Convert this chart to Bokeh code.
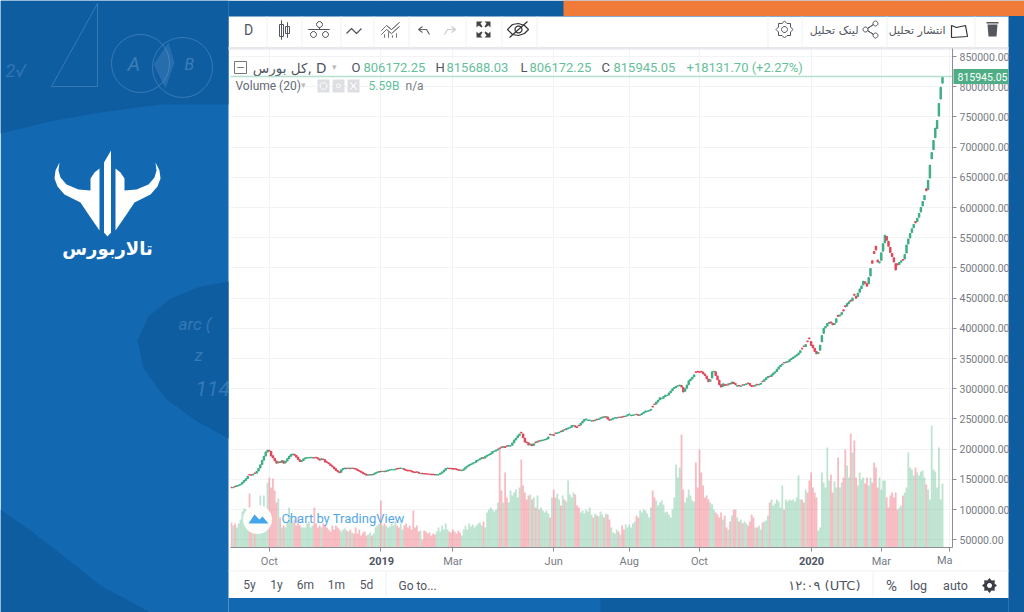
import math

from bokeh.embed import file_html
from bokeh.models import (BoxAnnotation, ColumnDataSource, FixedTicker, Label,
                          NumeralTickFormatter, PolyAnnotation, Range1d)
from bokeh.plotting import figure
from bokeh.resources import INLINE

# daily close, thousands
closes = [
    136.5, 137, 138, 139.5, 140.5, 142, 145, 148, 151, 155,
    157.5, 157, 158.5, 160, 163, 168, 174, 181, 188, 195,
    198, 197, 189, 186, 181, 177, 179, 178, 181, 177,
    180, 184, 188, 191, 192, 190, 187, 183, 180, 181,
    184, 185.5, 186, 186, 186.5, 186, 185.5, 186, 184, 182,
    184, 183, 179, 178, 176, 173, 171, 168, 165, 163,
    161, 166, 168, 168.5, 168, 168.5, 168, 168.5, 168, 167,
    165, 163.5, 162, 160, 158.5, 157, 157.5, 158, 157.5, 159,
    161, 162, 163, 163, 163.5, 163, 164, 165, 166, 166.5,
    166, 167, 167.5, 168, 168.5, 168, 166, 165, 164, 164.5,
    163, 162, 161.5, 162, 160.5, 160, 159.5, 159, 159, 158.5,
    158.5, 158, 158, 157.5, 158, 158, 160, 162, 165, 168,
    168.5, 168, 168, 167, 167.5, 166.5, 165.5, 165, 165, 167,
    170, 172, 174, 175.5, 177, 178, 181, 182, 184, 186,
    185, 188, 190, 191, 193, 196, 197, 198.5, 200, 201,
    203, 204.5, 203, 205, 206, 205.5, 210, 215, 218, 222,
    225, 227, 219, 212, 211, 207, 208.5, 206, 209, 211,
    213, 213.5, 214.5, 215, 216, 217, 220, 224, 224, 223,
    226, 227, 228, 229, 231, 232, 234, 235, 236, 239,
    239, 237, 236, 239, 243, 246, 249, 250, 248, 248,
    247, 247, 248, 249, 250, 252, 253, 253, 254, 250,
    248, 249.5, 251, 252, 252, 252.5, 253, 253, 254, 255,
    257, 258, 256, 256.5, 257, 257.5, 256, 257, 259, 261,
    263, 263, 264, 266, 270, 274, 278, 281, 285, 284,
    287, 289, 289, 293, 296, 300, 302, 304, 305, 306,
    303, 295, 300, 306, 313, 316, 319, 323, 327, 328,
    327, 328, 325, 322, 317, 312, 315, 328, 329, 322,
    315, 307, 303, 308, 306, 306, 308, 308, 311, 309,
    307, 305.5, 305, 304.5, 306, 307, 308, 309, 306, 304,
    304.5, 306, 307, 307, 309, 312, 315, 318, 320, 320,
    323, 326, 328, 332, 336, 339, 341, 343, 344, 345,
    348, 350, 352, 354, 356, 359, 363, 366, 370, 373,
    378, 383, 372, 368, 362, 358, 360, 372, 388, 400,
    403, 408, 410, 409, 406, 408, 416, 420, 422, 426,
    429, 436, 441, 444, 445, 450, 455, 450, 458, 465,
    470, 478, 475, 470, 484, 499, 508, 524, 530, 510,
    510, 525, 540, 554, 546, 536, 526, 519, 510, 497,
    505, 509, 512, 513, 522, 538, 548, 557, 565, 572,
    575, 582, 590, 600, 610, 620, 628, 645, 670, 691,
    711, 731, 744, 772, 799, 815.945,
]

# close minus open, thousands
bodies = [
    -.5, .5, -.5, 1, 1, 1, 2.5, 2.5, 2.5, 3.5,
    -.5, -.5, 1, -.5, 2.5, 4, 5, 6, 6, 6,
    2.5, -1, -7, -3, -4, -3.5, 1.5, -1, 2.5, -3.5,
    2.5, 3.5, 3.5, 2.5, 1, -1.5, -2.5, -3.5, -2.5, 1,
    2.5, 1, .5, .5, .5, .5, -.5, -.5, -1.5, -1.5,
    1.5, -.8, -3.5, -1, -1.5, -2.5, -1.5, -2.5, -2.5, -1.5,
    -1.5, 4, 1.5, .5, -.4, .4, -.4, .4, -.4, -.8,
    -1.5, -1.2, -1.2, -1.5, -1.2, -1.2, .4, .4, -.4, 1.2,
    1.5, .8, .8, -.4, .4, -.4, .8, .8, .8, .4,
    .4, .8, -.4, -.4, .4, .4, -1.5, -.8, -.8, -.4,
    -1.2, -.8, -.4, -.4, -1.2, .4, -.4, -.4, -.4, -.4,
    -.4, -.4, -.4, -.4, .4, .4, 1.5, 1.5, 2.5, 2.5,
    .4, -.4, -.4, -.8, -.4, -.8, -.8, -.4, .4, 1.5,
    2.5, 1.5, 1.5, 1.2, 1.2, .8, 2.5, .8, 1.5, 1.5,
    -.8, 2.5, 1.5, .8, 1.5, 2.5, .8, 1.2, 1.2, -.8,
    -.6, 1.2, -1, -.6, .8, .4, 3.5, 4, 2.5, 3,
    2.5, -.8, -6, -6, -.8, -3.5, 1.2, -2, 2.5, -.8,
    1.5, -.4, .8, .4, .8, .8, 2.5, -.6, .4, -.8,
    -.5, .8, .8, -.4, 1.5, -.4, 1.5, .8, .8, 2.5,
    .4, -1.5, -.8, -.6, 3, 2.5, 2.5, .8, .4, .4,
    .4, -.4, .8, -.4, .8, 1.5, .8, -.4, .8, -3,
    -1.5, 1.2, 1.2, .8, .4, -.4, .4, -.4, -.4, .8,
    1.5, .8, .4, .4, .4, -.4, -1, .8, 1.5, 1.5,
    1.5, .4, .8, 1.5, -.8, -.8, 3, 2.5, 3, .4,
    2.5, 1.5, .4, 3, 2.5, 3, 1.5, 1.5, .8, .8,
    -2.5, -7, 4, 5, 6, 2.5, 2.5, 3, -1, -.8,
    -1, -.8, -2.5, -2.5, -4, -4, 2.5, 10, .8, -6,
    -6, -7, -3.5, 4, -1.5, -.4, 1.5, -.4, 2.5, -1.5,
    -1.5, 1, -.4, .4, -.4, .8, .8, -.4, -2.5, -1.5,
    -.4, 1.2, -.4, .4, 1.5, -.4, 2.5, 2.5, 1.5, -.5,
    2.5, 2.5, 1.5, 3, 3, 2.5, 1.5, -.5, .8, .8,
    2.5, 1.5, 1.5, 1.5, 1.5, 2.5, 3, -.8, -.8, 3,
    -1, -1, -6, -4, -5, -3.5, 1.5, 8, 10, 8,
    2, 4, 1.5, -1.5, -2.5, 1.5, 6, -1.5, 1.5, 3,
    -1.5, -1.5, 4, 2.5, -1.5, 4, -1.5, -3, 5, 5,
    4, 6, -2, -4, 10, 12, -4, -3, -6, -3,
    1.5, 12, 12, 12, -6, -8, -8, -5, -7, -10,
    -2, 3, 2.5, -1, 7, 13, 8, 7, 6, 5,
    -2, 5, 6, 7, 7, 7, -3, 15, 21, 10,
    15, 15, 13, 20, 19, 9.773,
]

# volume, billions
volumes = [
    2.18, 1.92, 2.10, 1.75, 2.10, 2.44, 3.14, 3.40, 3.32, 2.97,
    4.71, 3.14, 2.97, 2.62, 2.79, 3.32, 4.54, 3.49, 4.54, 3.06,
    5.67, 6.11, 5.24, 6.02, 4.98, 3.93, 4.28, 2.62, 1.75, 1.92,
    1.75, 2.18, 3.49, 2.79, 2.18, 2.44, 1.92, 2.62, 1.92, 1.75,
    1.75, 1.75, 2.10, 2.27, 1.75, 1.92, 3.49, 2.10, 1.75, 1.92,
    1.75, 2.10, 1.92, 1.75, 1.57, 1.40, 1.92, 1.57, 1.92, 1.75,
    1.57, 1.40, 1.57, 1.66, 1.48, 1.40, 1.57, 1.31, 1.22, 1.75,
    1.22, 1.57, 1.05, 1.31, 1.40, 1.05, 1.13, 1.31, 1.05, 1.22,
    1.75, 1.92, 2.10, 4.10, 1.92, 2.10, 1.92, 1.75, 1.83, 2.10,
    1.92, 2.27, 1.92, 1.75, 2.10, 1.57, 1.92, 2.10, 1.75, 1.92,
    1.57, 3.23, 1.75, 1.92, 1.40, 1.48, 0.70, 1.48, 1.40, 1.22,
    1.31, 1.05, 1.22, 1.13, 1.40, 1.75, 1.40, 1.92, 1.57, 2.10,
    1.57, 1.40, 1.31, 1.57, 1.40, 1.22, 1.48, 1.31, 1.05, 1.57,
    1.92, 1.57, 2.10, 1.83, 2.01, 1.75, 1.92, 2.10, 2.18, 1.92,
    2.27, 1.75, 3.06, 3.32, 3.49, 3.32, 3.14, 3.32, 3.93, 8.56,
    4.98, 3.93, 6.55, 4.37, 3.93, 4.98, 4.54, 4.80, 5.06, 4.37,
    5.24, 7.68, 5.41, 4.80, 4.19, 4.54, 4.63, 4.19, 4.37, 3.49,
    4.54, 3.32, 3.49, 3.23, 3.06, 3.23, 2.97, 2.62, 4.37, 5.06,
    4.37, 4.71, 4.19, 3.67, 4.54, 4.19, 4.02, 5.85, 4.63, 4.37,
    4.80, 4.63, 3.67, 3.49, 3.06, 3.23, 2.97, 3.32, 3.14, 3.49,
    2.88, 2.62, 2.97, 2.79, 2.71, 3.14, 2.88, 2.62, 2.97, 2.88,
    2.44, 1.75, 1.31, 1.22, 1.57, 1.40, 1.13, 1.92, 1.57, 2.01,
    1.75, 2.01, 1.75, 2.10, 2.27, 2.79, 2.62, 3.23, 3.06, 3.32,
    3.23, 2.97, 2.62, 3.49, 4.98, 4.37, 4.10, 3.67, 3.93, 4.10,
    3.75, 3.06, 3.14, 2.88, 2.62, 3.32, 4.37, 7.25, 6.11, 6.98,
    9.86, 5.06, 3.93, 4.37, 5.06, 4.54, 4.10, 4.02, 7.42, 5.24,
    8.56, 6.55, 5.41, 4.37, 4.54, 4.19, 3.93, 3.75, 3.32, 3.06,
    2.88, 2.62, 3.06, 2.44, 2.79, 1.75, 1.57, 2.27, 2.79, 3.32,
    3.32, 2.62, 2.27, 2.44, 2.10, 2.27, 2.10, 1.92, 2.27, 2.88,
    2.62, 1.75, 1.75, 1.92, 1.57, 2.18, 2.27, 2.36, 2.79, 3.93,
    4.19, 3.67, 3.84, 4.19, 4.02, 3.49, 5.41, 3.32, 4.19, 4.02,
    4.19, 4.10, 4.19, 4.02, 4.37, 6.29, 4.19, 4.19, 3.93, 5.06,
    4.80, 5.85, 6.55, 5.24, 4.80, 4.37, 1.48, 1.75, 6.55, 5.67,
    5.24, 8.73, 5.85, 6.37, 4.80, 5.76, 5.24, 7.86, 5.24, 5.67,
    6.11, 8.56, 7.16, 6.11, 9.95, 8.29, 9.34, 6.11, 5.41, 6.55,
    5.94, 6.11, 5.59, 6.11, 5.41, 6.11, 5.67, 7.42, 6.98, 5.24,
    6.11, 5.06, 5.85, 5.85, 4.37, 3.49, 4.54, 4.80, 4.37, 4.80,
    3.32, 3.49, 3.67, 4.54, 4.80, 5.24, 8.29, 6.98, 6.81, 6.29,
    6.98, 6.55, 6.29, 6.63, 6.72, 6.11, 5.50, 5.06, 4.19, 10.65,
    6.81, 6.63, 5.24, 8.73, 4.19, 5.59,
]

tick_bars = [21, 83, 123, 179, 221, 260, 322, 361, 399]
tick_labels = ["Oct", "", "Mar", "Jun", "Aug", "Oct", "", "Mar", ""]
price_ticks = list(range(50000, 850001, 50000))

UP = "#3fae84"
DOWN = "#e0475a"
VOL_UP = "#53b987"
VOL_DOWN = "#eb4d5c"
BRIGHT = "#1269b1"
DARK = "#0f5da1"
INK = "#50555f"

# chart area edges in canvas pixels; the frame itself fills the whole canvas
LEFT, RIGHT, TOP, BOTTOM = 230, 952, 48, 547
BAR_PX = 1.8
PRICE_PX = 1655.6
VOLUME_PX = 0.0873


def bar_at(px):
    return (px - 231) / BAR_PX


def price_at(py):
    return 50000 + (539.3 - py) * PRICE_PX


p = figure(width=1024, height=612, output_backend="svg", toolbar_location=None, tools="",
           x_range=Range1d(bar_at(0), bar_at(1024)), y_range=Range1d(price_at(612), price_at(0)),
           y_axis_location="right", min_border=0)
p.background_fill_color = "white"
p.border_fill_color = "white"
p.outline_line_color = None
p.extra_y_ranges = {"volume": Range1d((BOTTOM - 612) * VOLUME_PX, BOTTOM * VOLUME_PX)}

p.xgrid.grid_line_color = "#f1f3f6"
p.ygrid.grid_line_color = "#f1f3f6"
p.xgrid.ticker = FixedTicker(ticks=tick_bars)
p.ygrid.ticker = FixedTicker(ticks=price_ticks)

p.xaxis.fixed_location = price_at(BOTTOM)
p.yaxis.fixed_location = bar_at(RIGHT)
p.xaxis.bounds = (bar_at(LEFT), bar_at(RIGHT))
p.yaxis.bounds = (price_at(BOTTOM), price_at(TOP))
p.xaxis.ticker = FixedTicker(ticks=tick_bars)
p.xaxis.major_label_overrides = dict(zip(tick_bars, tick_labels))
p.yaxis.ticker = FixedTicker(ticks=price_ticks)
p.yaxis.formatter = NumeralTickFormatter(format="0.00")
for axis in (p.xaxis, p.yaxis):
    axis.level = "overlay"
    axis.axis_line_color = "#8b8e94"
    axis.major_tick_line_color = "#8b8e94"
    axis.major_tick_out = 4
    axis.major_tick_in = 0
    axis.minor_tick_line_color = None
    axis.major_label_text_color = "#777b84"
    axis.major_label_text_font = "Roboto"
    axis.major_label_text_font_size = "11px"
p.yaxis.major_label_text_font_size = "10.5px"
p.yaxis.major_label_standoff = 3
p.xaxis.major_label_standoff = 3

opens = [c - b for c, b in zip(closes, bodies)]
bars = ColumnDataSource(dict(
    x=list(range(len(closes))),
    open=[v * 1000 for v in opens],
    close=[v * 1000 for v in closes],
    volume=volumes,
    candle=[UP if b >= 0 else DOWN for b in bodies],
    column=[VOL_UP if b >= 0 else VOL_DOWN for b in bodies],
))

p.vbar(x="x", width=1.0, bottom=0, top="volume", source=bars, y_range_name="volume",
       fill_color="column", fill_alpha=0.38, line_color=None)
p.vbar(x="x", width=0.7, bottom="open", top="close", source=bars,
       fill_color="candle", line_color="candle", line_width=1.2)


def shape(pts, fill=None, alpha=1.0, line=None, width=1.0):
    p.add_layout(PolyAnnotation(xs=[a for a, _ in pts], ys=[b for _, b in pts],
                                xs_units="canvas", ys_units="canvas",
                                fill_color=fill, fill_alpha=alpha if fill else 0,
                                line_color=line, line_alpha=alpha if line else 0,
                                line_width=width))


def stroke(pts, color=INK, width=1.0, alpha=1.0):
    # open path, drawn there and back since the annotation closes itself
    shape(pts + pts[::-1], line=color, width=width, alpha=alpha)


def ring(cx, cy, r, n=40):
    return [(cx + r * math.cos(2 * math.pi * i / n), cy + r * math.sin(2 * math.pi * i / n))
            for i in range(n)]


def cog(cx, cy, outer, inner):
    return [(cx + (outer if i % 2 == 0 else inner) * math.cos(math.pi * i / 8),
             cy + (outer if i % 2 == 0 else inner) * math.sin(math.pi * i / 8)) for i in range(16)]


def box(left, top, right, bottom, color, alpha=1.0, level="annotation"):
    p.add_layout(BoxAnnotation(left=left, right=right, top=top, bottom=bottom,
                               left_units="canvas", right_units="canvas",
                               top_units="canvas", bottom_units="canvas",
                               fill_color=color, fill_alpha=alpha, line_color=None, level=level))


def text(px, py, s, size=12, color=INK, font="Roboto", align="left", style="normal", alpha=1.0,
         level="annotation"):
    p.add_layout(Label(x=px, y=py, x_units="canvas", y_units="canvas", text=s, text_font=font,
                       text_font_size=f"{size}px", text_color=color, text_align=align,
                       text_baseline="middle", text_font_style=style, text_alpha=alpha,
                       level=level))


# white panel strips over the grid, outside the chart area
box(228, 16, 1008, TOP, "white")
box(RIGHT, 16, 1008, 598, "white")
box(228, BOTTOM, 1008, 598, "white")
box(228, 16, LEFT, 598, "white")

# page background around the panel
box(0, 0, 228, 612, BRIGHT)
box(1008, 0, 1024, 612, DARK)
box(228, 597.5, 1008, 612, BRIGHT)
box(228, 0, 1008, 16, DARK)
box(563, 0, 1024, 15.5, "#f07b38")
shape([(0, 0), (228, 0), (228, 104), (160, 104), (100, 112), (50, 121), (0, 133)], fill=DARK)
shape([(0, 509), (30, 530), (60, 553), (100, 585), (150, 612), (0, 612)], fill=DARK)
shape([(228, 281), (200, 286), (170, 298), (148, 316), (137, 340), (143, 368), (165, 398),
       (195, 420), (228, 438)], fill=DARK)
box(600, 597.5, 1008, 612, DARK)

# chalk sketches on the background
CHALK = "#7fb0dc"
shape(ring(140, 63, 29), line=CHALK, alpha=0.35)
shape(ring(182, 67, 30), line=CHALK, alpha=0.35)
shape([(97, 3), (51, 86), (97, 86)], line=CHALK, alpha=0.35)
shape([(153, 64), (168, 42), (174, 62), (165, 88)], fill=CHALK, alpha=0.2)
text(127, 63, "A", 20, CHALK, style="italic", alpha=0.4)
text(184, 64, "B", 16, CHALK, style="italic", alpha=0.4)
text(178, 323, "arc (", 17, CHALK, style="italic", alpha=0.35)
text(194, 354, "z", 17, CHALK, style="italic", alpha=0.35)
text(195, 388, "114", 21, CHALK, style="italic", alpha=0.35)
text(5, 70, "2√", 18, CHALK, style="italic", alpha=0.3)

# logo
horn = [(59, 162), (55, 170), (54, 178), (57, 186), (64, 194), (80, 202), (88, 214), (99, 230),
        (99, 168), (94, 172), (90, 178), (90, 190), (78, 189), (66, 184), (60, 177), (58, 170)]
shape(horn, fill="white")
shape([(214 - a, b) for a, b in horn], fill="white")
shape([(103.5, 162), (110.5, 150), (110.5, 232), (107, 236), (103.5, 232)], fill="white")
text(107, 248, "تالاربورس", 18, "white", font="DejaVu Sans", align="center", style="bold")

# top toolbar
box(228, 46.5, 1008, 49, "#e6e8ed")
for sep in (266, 301, 340, 373, 408, 465, 501, 536, 767, 801, 886, 974):
    box(sep, 16, sep + 1, 47, "#f0f1f3")
text(248, 29, "D", 14, align="center")
shape([(279, 24), (283, 24), (283, 36), (279, 36)], line=INK)
stroke([(281, 20), (281, 39)])
shape([(285, 26), (289, 26), (289, 33), (285, 33)], line=INK)
stroke([(287, 22), (287, 37)])
for cx, cy in ((313, 34), (319, 24), (325, 34)):
    shape(ring(cx, cy, 3, n=12), line=INK)
stroke([(308, 29), (329, 29)])
stroke([(319, 27), (319, 29)])
stroke([(346, 33), (351, 28), (356, 33), (361, 28)], width=1.2)
stroke([(381, 30), (386, 25), (391, 29), (399, 22)], "#777")
stroke([(381, 34), (386, 29), (391, 33), (399, 26)], "#777")
for bar_x, top_y in ((384, 34), (388, 32), (392, 35), (396, 33)):
    stroke([(bar_x, top_y), (bar_x, 37)], "#777")
stroke([(429, 34), (426, 29), (418, 29), (422, 26), (418, 29), (422, 32)], "#666", width=1.2)
stroke([(444, 34), (447, 29), (455, 29), (451, 26), (455, 29), (451, 32)], "#ccc", width=1.2)
for ax, ay, dx, dy in ((476, 21, 1, 1), (490, 21, -1, 1), (476, 37, 1, -1), (490, 37, -1, -1)):
    shape([(ax, ay), (ax + 6 * dx, ay), (ax + 4 * dx, ay + 2 * dy), (ax + 6 * dx, ay + 5 * dy),
           (ax + 5 * dx, ay + 6 * dy), (ax + 2 * dx, ay + 4 * dy), (ax, ay + 6 * dy)], fill="#444")
shape([(507, 29), (512, 24), (518, 23), (524, 25), (528, 29), (524, 33), (518, 35), (512, 34)],
      line="#333", width=1.2)
shape(ring(518, 29, 3.5, n=14), line="#333", width=1.2)
stroke([(509, 37), (527, 21)], "#333", width=1.2)

shape(cog(784, 29, 8.5, 6.5), line=INK)
shape(ring(784, 29, 3, n=14), line=INK)
text(858, 30, "لینک تحلیل", 11, font="DejaVu Sans", align="right")
for cx, cy in ((875, 23), (865, 29), (875, 35)):
    shape(ring(cx, cy, 2.5, n=12), line=INK)
stroke([(873, 24), (867, 28)])
stroke([(873, 34), (867, 30)])
text(945, 30, "انتشار تحلیل", 11, font="DejaVu Sans", align="right")
shape([(951, 25), (956, 27), (965, 25), (967, 36), (951, 37)], line="#333", width=1.2)
shape([(987, 24), (997, 24), (996, 36), (988, 36)], fill="#54575e")
box(986, 21.5, 998, 23, "#54575e")

# legend rows
shape([(234, 61), (246, 61), (246, 73), (234, 73)], line="#777")
stroke([(237, 67), (243, 67)], "#777")
text(326, 67, "کل بورس, D", 13.5, font="DejaVu Sans", align="right")
text(331, 66, "▾", 9, "#bbbbbb")
GREEN_TEXT = "#66bf9b"
for px, label in ((351, "O"), (435, "H"), (520, "L"), (601, "C")):
    text(px, 67, label, 13)
for px, value in ((363, "806172.25"), (446, "815688.03"), (529, "806172.25"), (613, "815945.05"),
                  (686, "+18131.70 (+2.27%)")):
    text(px, 67, value, 13, GREEN_TEXT)
text(235, 85, "Volume (20)", 12, "#666b75")
text(300, 84, "▾", 9, "#bbbbbb")
for left in (317, 332, 347):
    box(left, 79, left + 12, 92, "#dedfe2")
shape(ring(323, 85.5, 3.5, n=12), line="white")
shape(ring(338, 85.5, 2, n=8), line="white")
stroke([(350, 82), (356, 89)], "white")
stroke([(356, 82), (350, 89)], "white")
text(368, 85, "5.59B", 12, GREEN_TEXT)
text(405, 85, "n/a", 12, "#777b84")

# last price line and tag
box(LEFT, 75.2, RIGHT, 76.8, "#b5e0cd")
box(953, 68.5, 1008, 83.5, "#4fae85", level="overlay")
text(957, 76, "815945.05", 10.5, "white", level="overlay")

# bold years and the clipped last month on the time axis
text(381, 560, "2019", 11, "#50555f", align="center", style="bold")
text(811, 560, "2020", 11, "#50555f", align="center", style="bold")
text(952, 560, "Ma", 11, "#777b84", align="right")

# watermark
shape(ring(257, 519, 14.5), fill="white", alpha=0.95)
shape([(248, 523), (254, 514), (259, 519), (262, 516), (268, 523)], fill="#44a5ec")
text(281, 518, "Chart by TradingView", 13, "#55a8ea")

# bottom toolbar
box(228, 570, 1008, 571, "#eff0f3")
box(385, 572, 386, 596, "#eff0f3")
box(872, 572, 873, 596, "#eff0f3")
for px, label in ((249, "5y"), (276, "1y"), (305, "6m"), (336, "1m"), (366, "5d")):
    text(px, 584, label, 12, align="center")
text(398, 585, "Go to...", 12)
text(860, 585, "۱۲:۰۹ (UTC)", 13, font="DejaVu Sans", align="right")
text(891, 585, "%", 15, align="center")
text(918, 585, "log", 12.5, align="center")
text(955, 585, "auto", 12.5, align="center")
shape(cog(989, 585, 7.5, 5.5), fill="#3c3f46")
shape(ring(989, 585, 2.5, n=12), fill="white")

open("out.html", "w").write(file_html(p, INLINE))
